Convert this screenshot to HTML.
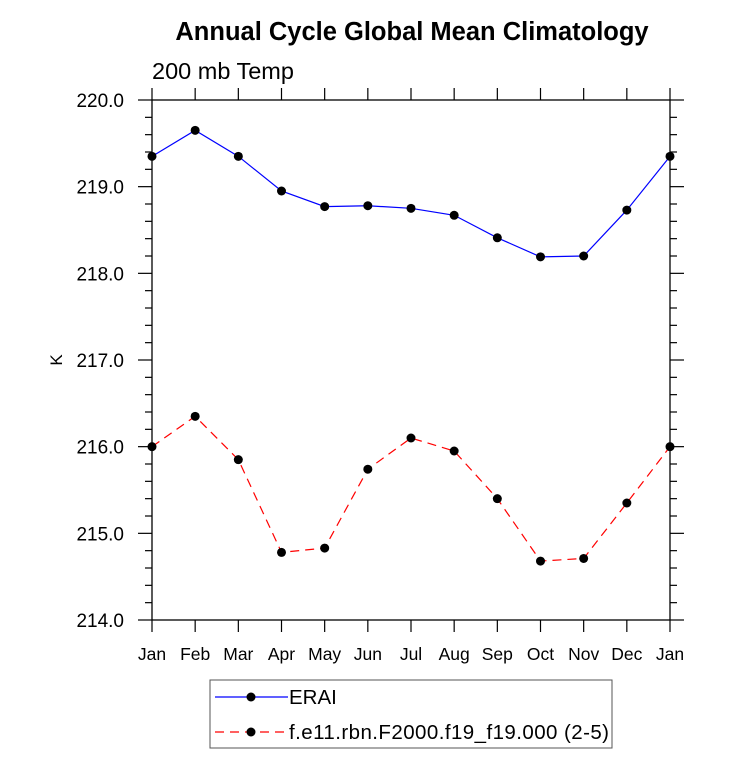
<!DOCTYPE html>
<html><head><meta charset="utf-8"><style>
body{margin:0;background:#fff;}
svg text{font-family:"Liberation Sans",Helvetica,Arial,sans-serif;fill:#000;}
</style></head><body>
<svg id="chart" width="733" height="770" xmlns="http://www.w3.org/2000/svg">
<text x="412" y="40" text-anchor="middle" font-size="25.5" font-weight="bold">Annual Cycle Global Mean Climatology</text>
<text x="152" y="79" font-size="23.5">200 mb Temp</text>
<text transform="translate(62,360) rotate(-90)" text-anchor="middle" font-size="17">K</text>
<g id="axes"></g>
<g id="series"></g>
<g>
<rect x="210" y="680" width="402" height="68" fill="none" stroke="#555" stroke-width="1"/>
<g>
<line x1="215" y1="697" x2="288" y2="697" stroke="#00f" stroke-width="1.2"/>
<circle cx="251" cy="697" r="4.5" fill="#000"/>
<text x="289" y="704" font-size="20.5">ERAI</text></g>
<g>
<line x1="215" y1="732" x2="288" y2="732" stroke="#f00" stroke-width="1.2" stroke-dasharray="9,6"/>
<circle cx="251" cy="732" r="4.5" fill="#000"/>
<text x="289" y="739" font-size="20.5" textLength="320">f.e11.rbn.F2000.f19_f19.000 (2-5)</text></g>
</g>
</svg>
<script>
const months=["Jan","Feb","Mar","Apr","May","Jun","Jul","Aug","Sep","Oct","Nov","Dec","Jan"];
const yTicks=[214,215,216,217,218,219,220];
const eraiValues=[219.35,219.65,219.35,218.95,218.77,218.78,218.75,218.67,218.41,218.19,218.20,218.73,219.35];
const modelValues=[216.0,216.35,215.85,214.78,214.83,215.74,216.10,215.95,215.40,214.68,214.71,215.35,216.0];
const L=152,R=670,T=100,B=620,yMin=214,yMax=220;
const NS="http://www.w3.org/2000/svg";
function xs(i){return L+(R-L)*i/(months.length-1);}
function ys(v){return B-(v-yMin)/(yMax-yMin)*(B-T);}
function mk(tag,attrs,parent){const e=document.createElementNS(NS,tag);for(const k in attrs)e.setAttribute(k,attrs[k]);parent.appendChild(e);return e;}
const axes=document.getElementById('axes');
const frame=mk('rect',{x:L,y:T,width:R-L,height:B-T,fill:'none',stroke:'#000','stroke-width':1.3},axes);


for(let v=yMin;v<=yMax+1e-6;v+=0.2){
  const y=ys(v);const major=Math.abs(v-Math.round(v))<1e-6;const len=major?14:7;
  mk('line',{x1:L,y1:y,x2:L-len,y2:y,stroke:'#000','stroke-width':1.2},axes);
  mk('line',{x1:R,y1:y,x2:R+len,y2:y,stroke:'#000','stroke-width':1.2},axes);
}
yTicks.forEach(v=>{
  const t=mk('text',{x:124,y:ys(v)+7,'text-anchor':'end','font-size':19},axes);
  t.textContent=v.toFixed(1);
  
  
});
months.forEach((m,i)=>{
  const x=xs(i);
  mk('line',{x1:x,y1:B,x2:x,y2:B+12,stroke:'#000','stroke-width':1.2},axes);
  mk('line',{x1:x,y1:T,x2:x,y2:T-12,stroke:'#000','stroke-width':1.2},axes);
  const t=mk('text',{x:x,y:B+40,'text-anchor':'middle','font-size':17.5},axes);
  t.textContent=m;
  
  
});
const sg=document.getElementById('series');
function drawSeries(vals,color,dash,name){
  const g=mk('g',{},sg);
  
  
  const p=mk('polyline',{points:vals.map((v,i)=>xs(i)+','+ys(v)).join(' '),fill:'none',stroke:color,'stroke-width':1.2},g);
  if(dash)p.setAttribute('stroke-dasharray',dash);
  vals.forEach((v,i)=>{
    const c=mk('circle',{cx:xs(i),cy:ys(v),r:4.5,fill:'#000'},g);
    
    
  });
}
drawSeries(eraiValues,'#00f',null,'erai-series');
drawSeries(modelValues,'#f00','9,6','model-series');
</script>
</body></html>
